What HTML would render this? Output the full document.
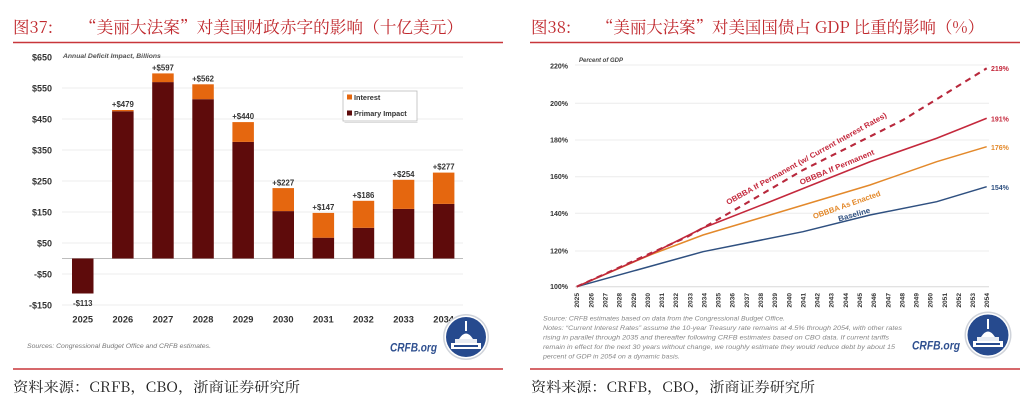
<!DOCTYPE html>
<html><head><meta charset="utf-8"><style>
html,body{margin:0;padding:0;background:#fff;}
svg{display:block;}
.b{font-family:"Liberation Sans",sans-serif;font-weight:bold;}
.t{font-family:"Noto Serif CJK SC","Liberation Serif",serif;}
</style></head><body>
<svg width="1024" height="402" viewBox="0 0 1024 402" xmlns="http://www.w3.org/2000/svg">
<rect width="1024" height="402" fill="#fff"/>

<!-- ============ LEFT TITLE ============ -->
<text class="t" x="13" y="33" font-size="16.5" fill="#c0282d">图37:</text>
<text class="t" x="80" y="33" font-size="16.5" fill="#c0282d" textLength="383" lengthAdjust="spacingAndGlyphs">“美丽大法案”对美国财政赤字的影响（十亿美元）</text>
<line x1="13" y1="42.5" x2="503" y2="42.5" stroke="#c8363a" stroke-width="1.6"/>

<!-- left gridlines -->
<g stroke="#ececec" stroke-width="1">
<line x1="62" y1="57" x2="463" y2="57"/>
<line x1="62" y1="88" x2="463" y2="88"/>
<line x1="62" y1="119" x2="463" y2="119"/>
<line x1="62" y1="150" x2="463" y2="150"/>
<line x1="62" y1="181" x2="463" y2="181"/>
<line x1="62" y1="212" x2="463" y2="212"/>
<line x1="62" y1="243" x2="463" y2="243"/>
<line x1="62" y1="274" x2="463" y2="274"/>
<line x1="62" y1="305" x2="463" y2="305"/>
</g>
<line x1="62" y1="258.5" x2="463" y2="258.5" stroke="#bdbdbd" stroke-width="1"/>

<!-- left y labels -->
<g class="b" font-size="9" fill="#333" text-anchor="end">
<text x="52" y="60.5">$650</text>
<text x="52" y="91.5">$550</text>
<text x="52" y="122.5">$450</text>
<text x="52" y="153.5">$350</text>
<text x="52" y="184.5">$250</text>
<text x="52" y="215.5">$150</text>
<text x="52" y="246.5">$50</text>
<text x="52" y="277.5">-$50</text>
<text x="52" y="308.5">-$150</text>
</g>
<text x="63" y="58" font-family="Liberation Sans,sans-serif" font-size="6.8" font-style="italic" font-weight="bold" fill="#555">Annual Deficit Impact, Billions</text>

<!-- bars -->
<g fill="#5e0b0b">
<rect x="72" y="258.5" width="21.5" height="35"/>
<rect x="112.1" y="111.25" width="21.5" height="147.25"/>
<rect x="152.2" y="82.1" width="21.5" height="176.4"/>
<rect x="192.3" y="99.2" width="21.5" height="159.3"/>
<rect x="232.4" y="141.9" width="21.5" height="116.6"/>
<rect x="272.5" y="211.1" width="21.5" height="47.4"/>
<rect x="312.6" y="237.7" width="21.5" height="20.8"/>
<rect x="352.7" y="227.8" width="21.5" height="30.7"/>
<rect x="392.8" y="208.9" width="21.5" height="49.6"/>
<rect x="432.9" y="203.9" width="21.5" height="54.6"/>
</g>
<g fill="#e5670f">
<rect x="112.1" y="110" width="21.5" height="1.25"/>
<rect x="152.2" y="73.4" width="21.5" height="8.7"/>
<rect x="192.3" y="84.3" width="21.5" height="14.9"/>
<rect x="232.4" y="122.1" width="21.5" height="19.8"/>
<rect x="272.5" y="188.1" width="21.5" height="23"/>
<rect x="312.6" y="212.9" width="21.5" height="24.8"/>
<rect x="352.7" y="200.8" width="21.5" height="27"/>
<rect x="392.8" y="179.8" width="21.5" height="29.1"/>
<rect x="432.9" y="172.6" width="21.5" height="31.3"/>
</g>

<!-- bar labels -->
<g class="b" font-size="7.8" fill="#333" text-anchor="middle">
<text x="82.75" y="306">-$113</text>
<text x="122.85" y="107">+$479</text>
<text x="162.95" y="70.5">+$597</text>
<text x="203.05" y="81.3">+$562</text>
<text x="243.15" y="119">+$440</text>
<text x="283.25" y="185.5">+$227</text>
<text x="323.35" y="210">+$147</text>
<text x="363.45" y="198">+$186</text>
<text x="403.55" y="177">+$254</text>
<text x="443.65" y="169.7">+$277</text>
</g>

<!-- x labels -->
<g class="b" font-size="9.3" fill="#333" text-anchor="middle">
<text x="82.75" y="322.5">2025</text>
<text x="122.85" y="322.5">2026</text>
<text x="162.95" y="322.5">2027</text>
<text x="203.05" y="322.5">2028</text>
<text x="243.15" y="322.5">2029</text>
<text x="283.25" y="322.5">2030</text>
<text x="323.35" y="322.5">2031</text>
<text x="363.45" y="322.5">2032</text>
<text x="403.55" y="322.5">2033</text>
<text x="443.65" y="322.5">2034</text>
</g>

<!-- legend -->
<rect x="343" y="91" width="74" height="30" fill="#fff" stroke="#bbb" stroke-width="0.8"/>
<rect x="344.5" y="122" width="73" height="1" fill="#ddd"/>
<rect x="347" y="94.5" width="5" height="5" fill="#e5670f"/>
<rect x="347" y="110.5" width="5" height="5" fill="#5e0b0b"/>
<g class="b" font-size="7.3" fill="#333">
<text x="354" y="100">Interest</text>
<text x="354" y="116">Primary Impact</text>
</g>

<!-- sources -->
<text x="27" y="348" font-family="Liberation Sans,sans-serif" font-size="6.3" font-style="italic" fill="#777" textLength="184" lengthAdjust="spacingAndGlyphs">Sources: Congressional Budget Office and CRFB estimates.</text>
<text x="390" y="351.5" class="b" font-style="italic" font-size="12" fill="#2e4f8f" textLength="47" lengthAdjust="spacingAndGlyphs">CRFB.org</text>

<!-- left logo -->
<g transform="translate(466,337)">
<circle r="23" fill="#cfd3da"/>
<circle r="21.5" fill="#fff"/>
<circle r="20" fill="#264a8e"/>
<path d="M-1,-16 L1,-16 L1,-6 L-1,-6 Z" fill="#fff"/>
<path d="M-7,2 Q0,-9 7,2 Z" fill="#fff"/>
<rect x="-11" y="2" width="22" height="4" fill="#e8ecf3"/>
<rect x="-15" y="6" width="30" height="6" fill="#fff"/>
<rect x="-12" y="8" width="24" height="2" fill="#264a8e"/>
</g>

<line x1="13" y1="369" x2="503" y2="369" stroke="#c8363a" stroke-width="1.4"/>
<text class="t" x="13" y="392" font-size="14.3" fill="#222" textLength="287" lengthAdjust="spacingAndGlyphs">资料来源：CRFB，CBO，浙商证券研究所</text>

<!-- ============ RIGHT TITLE ============ -->
<text class="t" x="531" y="33" font-size="16.5" fill="#c0282d">图38:</text>
<text class="t" x="597" y="33" font-size="16.5" fill="#c0282d" textLength="387" lengthAdjust="spacingAndGlyphs">“美丽大法案”对美国国债占 GDP 比重的影响（%）</text>
<line x1="530" y1="42.5" x2="1020" y2="42.5" stroke="#c8363a" stroke-width="1.6"/>

<!-- right gridlines -->
<g stroke="#ececec" stroke-width="1">
<line x1="575" y1="65" x2="989" y2="65"/>
<line x1="575" y1="103.3" x2="989" y2="103.3"/>
<line x1="575" y1="140" x2="989" y2="140"/>
<line x1="575" y1="176.7" x2="989" y2="176.7"/>
<line x1="575" y1="213.3" x2="989" y2="213.3"/>
<line x1="575" y1="251" x2="989" y2="251"/>
</g>
<line x1="575" y1="286.7" x2="989" y2="286.7" stroke="#d8d8d8" stroke-width="1"/>

<g class="b" font-size="7" fill="#333" text-anchor="end">
<text x="568" y="68.5">220%</text>
<text x="568" y="105.8">200%</text>
<text x="568" y="142.5">180%</text>
<text x="568" y="179.2">160%</text>
<text x="568" y="215.8">140%</text>
<text x="568" y="253.5">120%</text>
<text x="568" y="289.2">100%</text>
</g>
<text x="579" y="62" font-family="Liberation Sans,sans-serif" font-size="6" font-style="italic" font-weight="bold" fill="#444">Percent of GDP</text>

<!-- series -->
<polyline fill="none" stroke="#2f5080" stroke-width="1.5" points="576.7,286.7 703,251.7 803,231.7 870,215 936.7,201.7 986.7,186.7"/>
<polyline fill="none" stroke="#e3892b" stroke-width="1.5" points="576.7,286.7 650,255 703,235 770,215 870,185 936.7,161.7 986.7,146.7"/>
<polyline fill="none" stroke="#c4283c" stroke-width="1.6" points="576.7,286.7 650,254.5 703,228 770,201.7 870,161.7 936.7,138.3 986.7,118.3"/>
<polyline fill="none" stroke="#b8283c" stroke-width="2.1" stroke-dasharray="6,5" points="576.7,286.7 650,253.5 687,237 745,204 803,170 903,120 986.7,68.3"/>

<!-- series labels -->
<g class="b" font-size="7.6">
<text transform="translate(728,205) rotate(-29)" fill="#c4283c" textLength="182" lengthAdjust="spacingAndGlyphs">OBBBA If Permanent (w/ Current Interest Rates)</text>
<text transform="translate(801,185) rotate(-22.7)" fill="#c4283c" textLength="80" lengthAdjust="spacingAndGlyphs">OBBBA If Permanent</text>
<text transform="translate(814,219) rotate(-19.3)" fill="#e3892b" textLength="71" lengthAdjust="spacingAndGlyphs">OBBBA As Enacted</text>
<text transform="translate(839,221.5) rotate(-16)" fill="#2f5080" textLength="33" lengthAdjust="spacingAndGlyphs">Baseline</text>
</g>
<g class="b" font-size="7">
<text x="991" y="71" fill="#c4283c">219%</text>
<text x="991" y="121.5" fill="#c4283c">191%</text>
<text x="991" y="150" fill="#e3892b">176%</text>
<text x="991" y="190" fill="#2f5080">154%</text>
</g>

<!-- right x labels (rotated) -->
<g class="b" font-size="6.6" fill="#333" text-anchor="end">
<text transform="translate(579.2,293) rotate(-90)">2025</text>
<text transform="translate(593.4,293) rotate(-90)">2026</text>
<text transform="translate(607.5,293) rotate(-90)">2027</text>
<text transform="translate(621.6,293) rotate(-90)">2028</text>
<text transform="translate(635.8,293) rotate(-90)">2029</text>
<text transform="translate(649.9,293) rotate(-90)">2030</text>
<text transform="translate(664.0,293) rotate(-90)">2031</text>
<text transform="translate(678.2,293) rotate(-90)">2032</text>
<text transform="translate(692.3,293) rotate(-90)">2033</text>
<text transform="translate(706.5,293) rotate(-90)">2034</text>
<text transform="translate(720.6,293) rotate(-90)">2035</text>
<text transform="translate(734.7,293) rotate(-90)">2036</text>
<text transform="translate(748.9,293) rotate(-90)">2037</text>
<text transform="translate(763.0,293) rotate(-90)">2038</text>
<text transform="translate(777.2,293) rotate(-90)">2039</text>
<text transform="translate(791.3,293) rotate(-90)">2040</text>
<text transform="translate(805.4,293) rotate(-90)">2041</text>
<text transform="translate(819.6,293) rotate(-90)">2042</text>
<text transform="translate(833.7,293) rotate(-90)">2043</text>
<text transform="translate(847.9,293) rotate(-90)">2044</text>
<text transform="translate(862.0,293) rotate(-90)">2045</text>
<text transform="translate(876.1,293) rotate(-90)">2046</text>
<text transform="translate(890.3,293) rotate(-90)">2047</text>
<text transform="translate(904.4,293) rotate(-90)">2048</text>
<text transform="translate(918.6,293) rotate(-90)">2049</text>
<text transform="translate(932.7,293) rotate(-90)">2050</text>
<text transform="translate(946.8,293) rotate(-90)">2051</text>
<text transform="translate(961.0,293) rotate(-90)">2052</text>
<text transform="translate(975.1,293) rotate(-90)">2053</text>
<text transform="translate(989.2,293) rotate(-90)">2054</text>
</g>

<!-- notes -->
<g font-family="Liberation Sans,sans-serif" font-size="6.2" font-style="italic" fill="#888">
<text x="543" y="320.5" textLength="242" lengthAdjust="spacingAndGlyphs">Source: CRFB estimates based on data from the Congressional Budget Office.</text>
<text x="543" y="330" textLength="359" lengthAdjust="spacingAndGlyphs">Notes: “Current Interest Rates” assume the 10-year Treasury rate remains at 4.5% through 2054, with other rates</text>
<text x="543" y="339.5" textLength="346" lengthAdjust="spacingAndGlyphs">rising in parallel through 2035 and thereafter following CRFB estimates based on CBO data. If current tariffs</text>
<text x="543" y="349" textLength="352" lengthAdjust="spacingAndGlyphs">remain in effect for the next 30 years without change, we roughly estimate they would reduce debt by about 15</text>
<text x="543" y="358.5" textLength="137" lengthAdjust="spacingAndGlyphs">percent of GDP in 2054 on a dynamic basis.</text>
</g>
<text x="912" y="349.5" class="b" font-style="italic" font-size="12" fill="#2e4f8f" textLength="48" lengthAdjust="spacingAndGlyphs">CRFB.org</text>

<!-- right logo -->
<g transform="translate(988,335)">
<circle r="23.5" fill="#cfd3da"/>
<circle r="22" fill="#fff"/>
<circle r="20.5" fill="#264a8e"/>
<path d="M-1,-16 L1,-16 L1,-6 L-1,-6 Z" fill="#fff"/>
<path d="M-7,2 Q0,-9 7,2 Z" fill="#fff"/>
<rect x="-11" y="2" width="22" height="4" fill="#e8ecf3"/>
<rect x="-15" y="6" width="30" height="6" fill="#fff"/>
<rect x="-12" y="8" width="24" height="2" fill="#264a8e"/>
</g>

<line x1="530" y1="369" x2="1020" y2="369" stroke="#c8363a" stroke-width="1.4"/>
<text class="t" x="531" y="392" font-size="14.3" fill="#222" textLength="284" lengthAdjust="spacingAndGlyphs">资料来源：CRFB，CBO，浙商证券研究所</text>
</svg>
</body></html>
